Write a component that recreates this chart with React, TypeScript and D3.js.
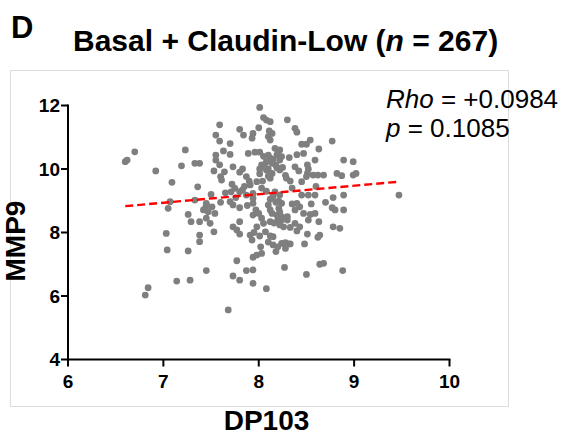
import React from 'react';
import * as d3 from 'd3';

const dp103 = [
  8.01, 8.05, 8.08, 8.12, 8.30, 7.59, 7.80, 7.84, 7.94, 7.93, 8.11, 8.14, 8.10, 8.12, 8.38, 8.40, 7.55, 7.59, 8.54, 8.50,
  8.45, 8.77, 8.17, 8.22, 7.63, 7.70, 7.89, 7.96, 8.01, 8.19, 8.24, 8.22, 8.10, 8.12, 8.08, 8.14, 8.32, 8.47, 8.63, 7.55,
  7.55, 7.59, 8.03, 8.01, 8.01, 8.08, 7.73, 7.83, 7.64, 7.60, 7.61, 7.53, 7.80, 7.87, 7.90, 7.91, 8.10, 8.14, 8.12, 8.19,
  8.22, 8.38, 8.42, 8.51, 8.52, 8.51, 8.50, 8.57, 8.62, 8.68, 8.59, 8.82, 8.89, 8.29, 8.33, 8.04, 7.72, 7.75, 7.71, 7.80,
  7.83, 7.87, 8.17, 8.22, 8.45, 8.52, 8.78, 8.89, 7.94, 7.94, 7.45, 7.51, 7.42, 7.54, 7.45, 7.49, 7.70, 7.73, 7.80, 7.94,
  7.97, 7.94, 8.15, 8.21, 8.24, 8.21, 8.22, 8.19, 8.24, 8.10, 8.12, 8.40, 8.43, 8.38, 8.59, 8.77, 8.80, 8.89, 8.47, 8.54,
  8.59, 8.63, 8.24, 8.22, 8.26, 8.03, 8.05, 7.98, 7.80, 7.73, 8.38, 8.43, 8.85, 8.78, 7.53, 7.38, 7.38, 7.77, 7.80, 7.91,
  7.93, 8.01, 8.07, 8.12, 8.15, 8.12, 8.33, 8.30, 8.52, 8.02, 8.03, 7.94, 7.98, 8.15, 8.18, 8.24, 8.28, 8.31, 8.33, 8.48,
  8.51, 8.64, 8.62, 7.77, 7.45, 7.87, 7.94, 7.73, 7.80, 7.94, 8.08, 8.27, 8.50, 8.64, 8.68, 8.88, 7.68, 7.03, 7.04, 7.26,
  7.29, 7.38, 7.14, 7.28, 6.84, 6.81, 6.70, 6.62, 6.60, 7.23, 6.92, 7.19, 7.33, 7.38, 7.09, 7.36, 7.07, 7.05, 7.33, 7.26,
  7.44, 7.45, 7.47, 8.99, 8.87, 8.99, 9.02, 9.47,
  8.05, 8.15, 8.20, 8.06, 8.18, 8.25, 8.10, 8.28, 8.03, 8.08, 8.12, 8.18, 8.14, 8.20, 8.16, 8.30, 8.35, 8.00, 7.88, 7.76,
  7.85, 7.98, 8.35, 8.45, 8.20, 8.28, 8.10, 7.95, 8.40, 7.65, 7.60, 8.55, 8.60, 8.70, 7.50, 8.40, 7.70, 8.00,
];

const mmp9 = [
  11.94, 11.62, 11.54, 11.49, 11.55, 11.39, 11.25, 11.07, 11.12, 10.97, 11.20, 11.12, 11.02, 10.91, 11.28, 11.16, 11.07, 10.88, 10.91, 10.78,
  10.78, 10.88, 10.65, 10.60, 10.57, 10.46, 10.49, 10.53, 10.53, 10.44, 10.39, 10.28, 10.44, 10.34, 10.23, 10.18, 10.36, 10.49, 10.63, 10.44,
  10.28, 10.13, 10.13, 10.00, 9.85, 9.97, 10.07, 10.00, 9.91, 9.76, 9.65, 9.94, 9.90, 9.76, 9.62, 9.50, 10.00, 9.86, 9.71, 10.04,
  9.97, 10.07, 9.94, 10.13, 10.00, 9.86, 9.76, 9.81, 9.81, 9.81, 10.28, 9.86, 10.28, 9.71, 9.62, 9.62, 9.52, 9.39, 9.28, 9.28,
  9.34, 9.18, 9.28, 9.18, 9.18, 9.18, 9.10, 9.18, 9.23, 9.08, 8.92, 8.81, 8.71, 8.60, 8.45, 8.29, 8.97, 8.87, 8.78, 8.92,
  8.71, 8.55, 9.13, 8.99, 8.92, 8.76, 8.65, 8.55, 8.50, 8.87, 8.71, 8.92, 8.81, 8.71, 9.18, 8.78, 8.71, 8.71, 8.60, 8.57,
  8.60, 8.34, 8.39, 8.24, 8.18, 8.45, 8.29, 8.18, 8.34, 8.18, 8.29, 8.18, 8.13, 8.18, 8.02, 7.92, 7.71, 8.08, 7.95, 7.92,
  7.76, 7.89, 8.02, 7.89, 7.87, 8.34, 8.16, 8.39, 8.39, 7.55, 7.34, 7.22, 7.29, 7.61, 7.40, 7.66, 7.68, 7.64, 7.64, 7.64,
  7.95, 7.92, 7.85, 7.11, 6.80, 6.80, 6.82, 6.63, 6.50, 6.40, 6.23, 6.90, 6.68, 7.00, 7.03, 6.80, 5.56, 7.97, 7.45, 7.42,
  8.34, 8.34, 6.47, 6.50, 6.26, 6.03, 10.54, 10.28, 10.23, 10.60, 9.94, 10.10, 10.18, 10.18, 9.58, 9.44, 8.97, 8.76, 9.02, 8.57,
  8.76, 8.87, 8.65, 10.23, 9.79, 9.81, 9.86, 9.18,
  10.40, 10.30, 10.50, 10.10, 10.12, 10.05, 9.78, 9.80, 9.40, 9.30, 9.05, 8.95, 8.60, 8.40, 8.30, 8.50, 8.90, 8.60, 8.85, 9.10,
  9.45, 9.60, 9.40, 9.60, 7.55, 7.50, 7.70, 8.00, 8.05, 9.25, 8.95, 8.90, 9.45, 8.95, 9.20, 10.45, 10.80, 11.30,
];

const xTicks = [6, 7, 8, 9, 10];
const yTicks = [4, 6, 8, 10, 12];
const fitX = [6.6, 9.47];
const fitY = [8.83, 9.6];

const panelLetter = 'D';
const titleMain = 'Basal + Claudin-Low ';
const nCount = '267';
const rhoValue = '+0.0984';
const pValue = '0.1085';
const xLabel = 'DP103';
const yLabel = 'MMP9';

const FONT = '"Liberation Sans", Arial, Helvetica, sans-serif';

export default function App() {
  const x = d3.scaleLinear().domain([6, 10]).range([68, 449.5]);
  const y = d3.scaleLinear().domain([4, 12]).range([359.5, 105.5]);
  const fitPts: [number, number][] = fitX.map((v, i) => [v, fitY[i]]);
  const fitPath = d3
    .line<[number, number]>()
    .x((d) => x(d[0]))
    .y((d) => y(d[1]))(fitPts) as string;

  const [x0, x1] = x.range();
  const [y0, y1] = y.range();

  return (
    <svg
      width={566}
      height={437}
      style={{ position: 'absolute', left: 0, top: 0, background: '#fff' }}
      fontFamily={FONT}
    >
      <rect x={0} y={0} width={566} height={437} fill="#fff" />
      <rect x={10.5} y={70.5} width={498} height={336} fill="none" stroke="#dcdcdc" strokeWidth={1} />

      <text x={11} y={38} fontSize={31} fontWeight="bold" fill="#000">
        {panelLetter}
      </text>
      <text x={73} y={51} fontSize={30} fontWeight="bold" fill="#000">
        {titleMain}(<tspan fontStyle="italic">n</tspan> = {nCount})
      </text>

      <text x={386} y={108} fontSize={26} fill="#000">
        <tspan fontStyle="italic">Rho</tspan> = {rhoValue}
      </text>
      <text x={386} y={137} fontSize={26} fill="#000">
        <tspan fontStyle="italic">p</tspan> = {pValue}
      </text>

      {dp103.map((v, i) => (
        <circle key={i} cx={x(v)} cy={y(mmp9[i])} r={3.4} fill="#7f7f7f" />
      ))}

      <path d={fitPath} fill="none" stroke="#ff0000" strokeWidth={2.4} strokeDasharray="8,4" />

      <line x1={x0} x2={x0} y1={y0 + 1} y2={y1 - 1} stroke="#000" strokeWidth={2} />
      <line x1={x0 - 1} x2={x1 + 1} y1={y0} y2={y0} stroke="#000" strokeWidth={2} />
      {yTicks.map((t) => (
        <g key={'y' + t}>
          <line x1={x0 - 7} x2={x0} y1={y(t)} y2={y(t)} stroke="#000" strokeWidth={2} />
          <text x={x0 - 8} y={y(t)} dy="0.36em" textAnchor="end" fontSize={19} fontWeight="bold" fill="#000">
            {t}
          </text>
        </g>
      ))}
      {xTicks.map((t) => (
        <g key={'x' + t}>
          <line x1={x(t)} x2={x(t)} y1={y0} y2={y0 + 7} stroke="#000" strokeWidth={2} />
          <text x={x(t)} y={388} textAnchor="middle" fontSize={19} fontWeight="bold" fill="#000">
            {t}
          </text>
        </g>
      ))}

      <text x={266.5} y={430} textAnchor="middle" fontSize={28} fontWeight="bold" fill="#000">
        {xLabel}
      </text>
      <text
        transform="translate(25,241) rotate(-90)"
        textAnchor="middle"
        fontSize={28}
        fontWeight="bold"
        fill="#000"
      >
        {yLabel}
      </text>
    </svg>
  );
}
